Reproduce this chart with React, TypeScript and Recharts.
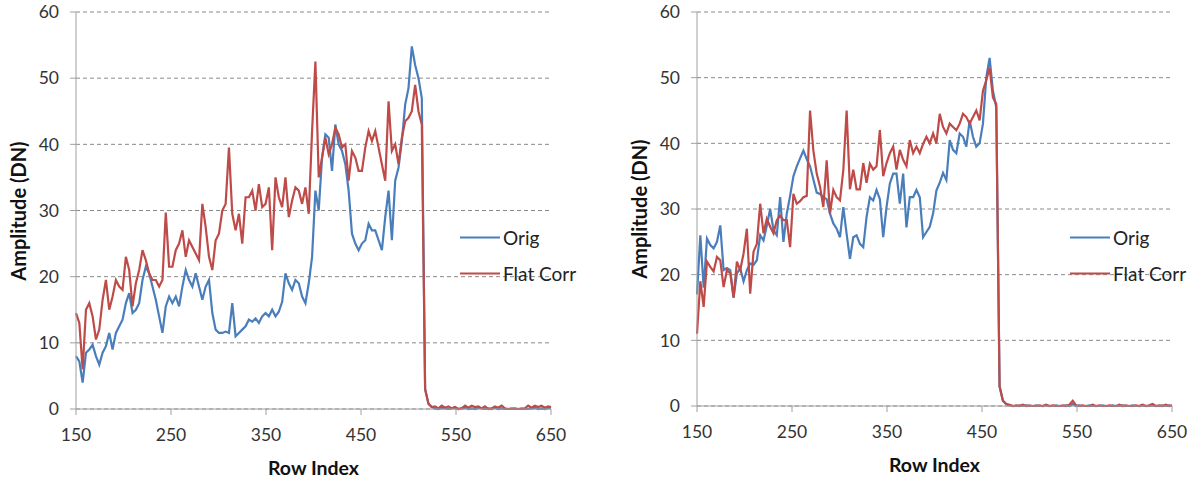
import { LineChart, Line, XAxis, YAxis, CartesianGrid } from 'recharts';

// row index sampling of the traces
const ROW_START = 150;
const ROW_STEP = 3.5;
const ROW_END = 650;

const X_TICKS = [150, 250, 350, 450, 550, 650];
const Y_TICKS = [0, 10, 20, 30, 40, 50, 60];

const SERIES_NAMES = ['Orig', 'Flat Corr'];
const COLORS = ['#4a7ebb', '#be4b48'];

const FONT = 'Lato, "Open Sans", sans-serif';

// left panel
const leftOrig = [
  8, 7.2, 4, 8.5, 9, 9.7, 8, 6.7, 8.5, 9.5,
  11.5, 9, 11.5, 12.5, 13.5, 16, 17.5, 14.5, 15, 16,
  19.5, 21.5, 20.5, 18.5, 16.5, 14, 11.5, 15.5, 17, 16,
  17, 15.5, 18.5, 21, 19.5, 18.5, 20.5, 18.5, 16.5, 18.5,
  19.5, 14.5, 12, 11.5, 11.5, 11.7, 11.5, 16, 11, 11.5,
  12, 12.5, 13.5, 13.2, 13.7, 13, 14, 14.5, 14, 15,
  14, 14.7, 16.2, 20.5, 19, 18, 19.5, 19, 17, 16,
  19, 23, 33, 30, 38, 41.5, 41, 36, 43, 40,
  39, 37, 33, 26.5, 25, 24, 25, 25.5, 28, 27,
  27, 25.5, 24, 29, 33, 25.5, 34.5, 36.5, 40.5, 46,
  48.5, 54.8, 52, 50, 47, 3, 0.8, 0.3,
  0.1, 0, 0.2, 0.1, 0, 0.1, 0.2, 0, 0.1, 0.2,
  0, 0.1, 0, 0.2, 0.1, 0, 0.1, 0, 0.2, 0,
  0.1, 0, 0, 0.1, 0, 0, 0.1, 0, 0, 0.1,
  0.2, 0, 0.1, 0, 0.2, 0.1,
];

const leftFlat = [
  14.5, 13, 6, 15, 16, 14, 10.5, 12, 16.5, 19.5,
  15, 17, 19.5, 18.5, 18, 23, 21, 15.5, 19, 21,
  24, 22.5, 20.5, 19.5, 19.5, 18.5, 19.5, 29.7, 21.5, 21.5,
  24, 25, 27, 23, 25.5, 24.5, 23.5, 22.5, 31, 27.5,
  23, 21, 25.5, 26.5, 30, 31, 39.5, 29.5, 27, 29.5,
  25, 32, 32, 33, 30, 34, 30.5, 31, 33.5, 24,
  35, 32, 30.5, 35, 29, 31.5, 33.5, 33, 31, 33.5,
  29.5, 42, 52.5, 35, 38, 41, 38.5, 40, 42.5, 41.5,
  39.5, 40, 34.5, 39, 38, 36, 36, 39.5, 42, 40.5,
  42, 39.5, 37, 34.5, 46.5, 39, 40, 37, 41, 43.5,
  44, 45, 49, 45, 43, 3, 0.8, 0.3,
  0.4, 0.1, 0.5, 0.2, 0.4, 0.1, 0.3, 0, 0.1, 0.5,
  0.2, 0.5, 0.3, 0.4, 0.1, 0.4, 0, 0.1, 0.4, 0.2,
  0.5, 0.1, 0, 0, 0.1, 0, 0, 0.1, 0.5, 0.2,
  0.5, 0.3, 0.5, 0.2, 0.4, 0.3,
];

// right panel
const rightOrig = [
  17, 26, 18, 25.5, 24.5, 24, 25, 27.5, 20.7, 21,
  20.7, 16.5, 20.2, 21, 19, 20.7, 21.7, 21.5, 22.2, 26,
  25.2, 27.5, 30, 26.8, 26, 31.8, 25, 29.3, 32, 35,
  36.5, 37.7, 38.9, 37.6, 36.5, 34.5, 32.5, 32.3, 31.8, 31.5,
  29.3, 27.8, 27, 25.7, 30.3, 26.2, 22.4, 25.7, 26, 24.7,
  24.2, 28.8, 31.8, 31.3, 32.9, 31.5, 25.7, 30.3, 33.9, 35.4,
  35.4, 30.8, 35.4, 27.2, 31.8, 31.8, 32.9, 31.8, 25.7, 26.5,
  27.3, 29.3, 32.8, 34, 35.5, 34.4, 40.5, 39, 38.5, 41.5,
  41, 39.5, 43.5, 41, 39.5, 40, 43, 50, 53, 48,
  45.5, 3, 0.8, 0.3,
  0.1, 0, 0, 0.1, 0, 0.1, 0, 0, 0.1, 0,
  0, 0.1, 0, 0, 0.1, 0, 0, 0.1, 0, 0.3,
  0, 0.1, 0, 0, 0.1, 0, 0, 0, 0.1, 0,
  0, 0.1, 0, 0, 0.1, 0, 0, 0.1, 0, 0,
  0.1, 0, 0, 0.1, 0, 0, 0.1, 0, 0.1, 0,
];

const rightFlat = [
  11, 19, 15.1, 22, 21.2, 20.5, 22.7, 22.2, 18.1, 20.7,
  20.2, 16.5, 22, 20.7, 23.2, 27, 17.1, 23.5, 24.7, 30.8,
  26.3, 28.5, 27.3, 26.3, 28.3, 29, 28.3, 28.3, 24.2, 32.3,
  30.8, 31.2, 31.8, 32, 45, 38.9, 35.4, 33.4, 30.3, 37.4,
  29.3, 32.9, 31.8, 31.3, 35.9, 45, 33, 36, 33, 33,
  37, 34, 36.9, 36, 36.5, 42, 35, 37, 38.5, 39.5,
  36, 39, 37.5, 36.5, 40.5, 38.5, 39.5, 38.5, 39.9, 41,
  40, 41.5, 40, 44.5, 42.5, 41.5, 43, 42.5, 42, 43,
  44.5, 44, 43, 44, 45, 43.5, 48, 49.6, 51.5, 47,
  46, 3, 0.8, 0.3,
  0.2, 0, 0.1, 0, 0.2, 0, 0.1, 0, 0, 0.1,
  0, 0.2, 0, 0.1, 0, 0, 0.1, 0, 0.2, 0.8,
  0.1, 0, 0.1, 0, 0, 0.2, 0, 0.1, 0, 0,
  0.1, 0, 0, 0.2, 0, 0.1, 0, 0, 0.1, 0,
  0.2, 0, 0.1, 0.3, 0, 0.1, 0, 0.2, 0, 0.1,
];

function toRows(orig: number[], flat: number[]) {
  return orig.map((v, i) => ({
    row: Math.min(ROW_END, ROW_START + i * ROW_STEP),
    orig: v,
    flat: flat[i],
  }));
}

const leftData = toRows(leftOrig, leftFlat);
const rightData = toRows(rightOrig, rightFlat);

interface PanelProps {
  data: { row: number; orig: number; flat: number }[];
  left: number;
  width: number;
  plotBottom: number;
  plotRight: number;
  legendLeft: number;
}

const AXIS_W = 76;

function Panel({ data, left, width, plotBottom, plotRight, legendLeft }: PanelProps) {
  const tick = { fill: '#333', fontSize: 17.5 };
  const plotCenter = (AXIS_W + plotRight) / 2;
  return (
    <div style={{ position: 'absolute', left, top: 0, width, height: 481, fontFamily: FONT }}>
      <LineChart
        width={width}
        height={481}
        data={data}
        margin={{ top: 12, right: width - plotRight, left: 0, bottom: 0 }}
      >
        <CartesianGrid vertical={false} stroke="#8a8a8a" strokeDasharray="4 3" />
        <XAxis
          type="number"
          dataKey="row"
          domain={[150, 650]}
          ticks={X_TICKS}
          height={481 - plotBottom}
          stroke="#a0a0a0"
          tickSize={6}
          tickMargin={14}
          tick={tick}
          interval={0}
        />
        <YAxis
          domain={[0, 60]}
          ticks={Y_TICKS}
          width={AXIS_W}
          stroke="#a0a0a0"
          tickSize={6}
          tickMargin={11}
          tick={tick}
          interval={0}
        />
        <Line type="linear" dataKey="orig" stroke={COLORS[0]} strokeWidth={2.2} dot={false} isAnimationActive={false} />
        <Line type="linear" dataKey="flat" stroke={COLORS[1]} strokeWidth={2.2} dot={false} isAnimationActive={false} />
      </LineChart>

      {/* axis titles */}
      <div
        style={{
          position: 'absolute', left: 18, top: (12 + plotBottom) / 2,
          transform: 'translate(-50%, -50%) rotate(-90deg)',
          whiteSpace: 'nowrap', fontWeight: 700, fontSize: 20, color: '#111',
        }}
      >
        Amplitude (DN)
      </div>
      <div
        style={{
          position: 'absolute', left: plotCenter, top: plotBottom + 58,
          transform: 'translate(-50%, -50%)',
          whiteSpace: 'nowrap', fontWeight: 700, fontSize: 19.5, color: '#111',
        }}
      >
        Row Index
      </div>

      {/* legend */}
      {SERIES_NAMES.map((name, i) => (
        <div
          key={name}
          style={{
            position: 'absolute', left: legendLeft, top: 237 + i * 36,
            transform: 'translateY(-50%)', display: 'flex', alignItems: 'center',
            whiteSpace: 'nowrap', fontSize: 19, color: '#222',
          }}
        >
          <span style={{ display: 'inline-block', width: 40, height: 2, background: COLORS[i], marginRight: 3 }} />
          {name}
        </div>
      ))}
    </div>
  );
}

export default function App() {
  return (
    <div style={{ position: 'absolute', left: 0, top: 0, width: 1197, height: 481, background: '#fff' }}>
      <Panel data={leftData} left={0} width={600} plotBottom={409} plotRight={551} legendLeft={460} />
      <Panel data={rightData} left={621} width={576} plotBottom={406} plotRight={551} legendLeft={449} />
    </div>
  );
}
